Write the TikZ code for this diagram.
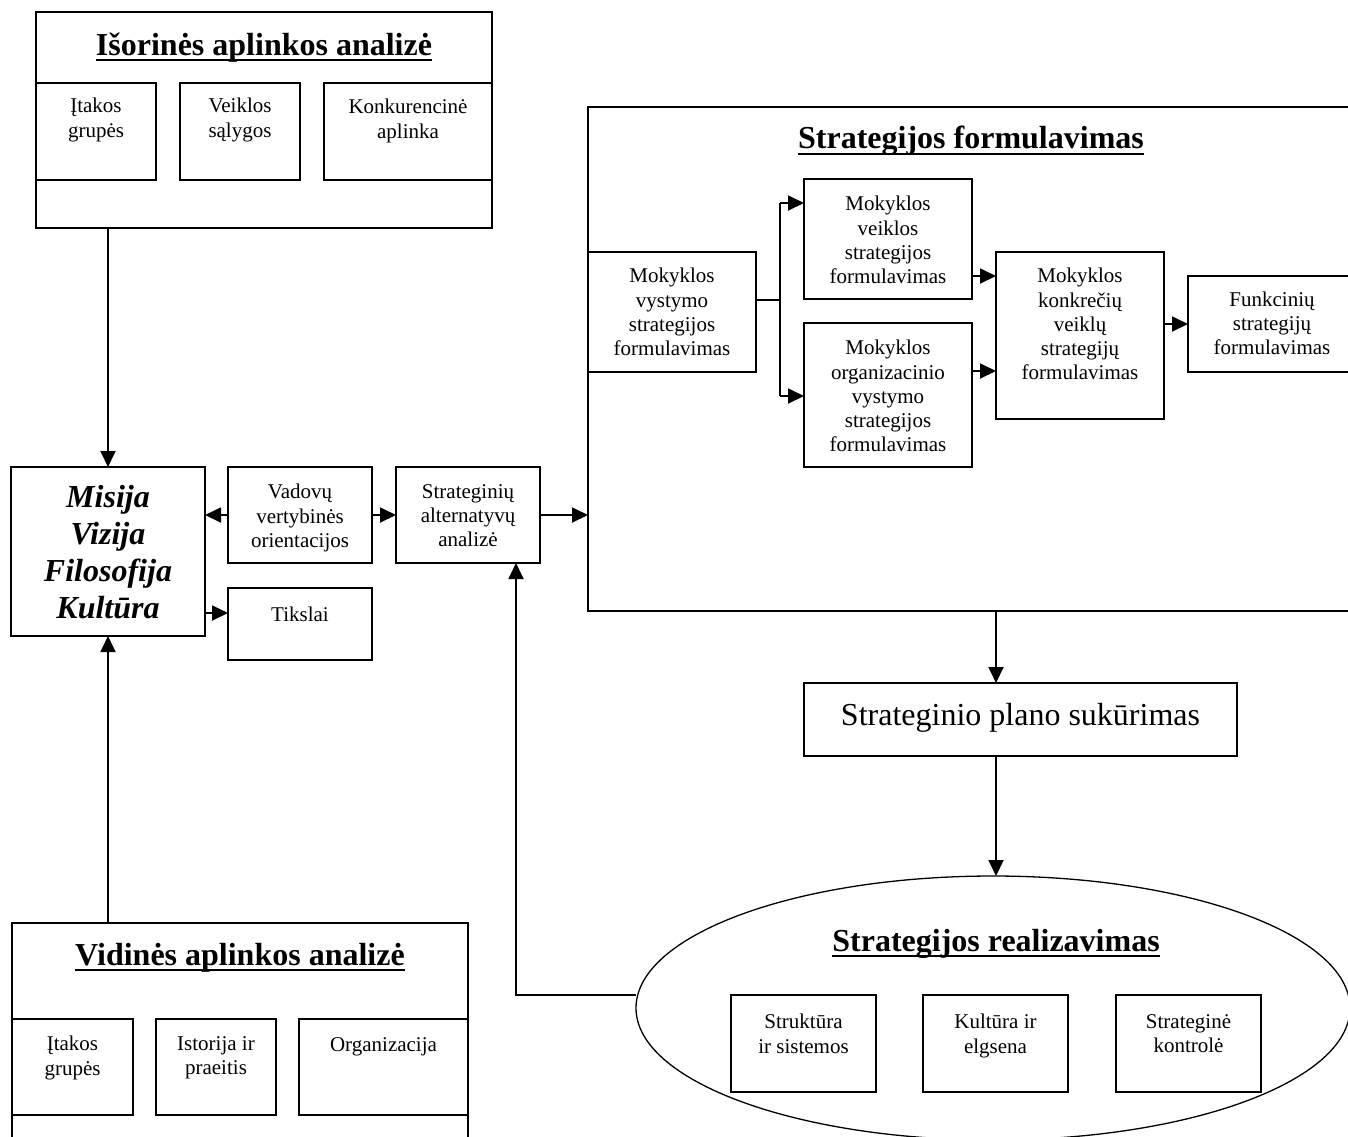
\documentclass[tikz,border=0pt]{standalone}
\usepackage{fontspec}
\setmainfont{Liberation Serif}
\usetikzlibrary{arrows.meta,shapes.geometric}
\newcommand\smfs{\fontsize{21}{24.3}\selectfont}
\newcommand\bgfs{\fontsize{32}{37}\selectfont}
\tikzset{
 box/.style={draw, line width=1.8pt, rectangle, inner sep=0pt, outer sep=0pt},
 arr/.style={line width=1.8pt, -{Triangle[length=16pt,width=15pt]}},
 ln/.style={line width=1.8pt},
 txt/.style={font=\smfs, align=center, inner sep=0pt, anchor=north, execute at begin node=\strut},
 mtxt/.style={font=\bgfs\bfseries\itshape, align=center, inner sep=0pt, anchor=north, execute at begin node=\strut},
 ttl/.style={font=\bgfs\bfseries, inner sep=0pt, anchor=base},
 ul/.style={line width=2.3pt},
}
\newcommand\mkbox[5]{\node[box, minimum width={#4-#2}, minimum height={#5-#3}] (#1) at ({(#2+#4)/2},{(#3+#5)/2}) {};}
\begin{document}
\begin{tikzpicture}[x=1pt,y=-1pt]
\useasboundingbox (0,0) rectangle (1348,1136);
\fill[white] (0,0) rectangle (1348,1136);
\clip (0,0) rectangle (1348,1136);

% ---------- external environment ----------
\mkbox{iso}{36}{12}{492}{228}
\node[ttl] (iso-t) at (264,55) {Išorinės aplinkos analizė};
\draw[ul] ([yshift=-5.3pt]iso-t.base west) -- ([yshift=-5.3pt]iso-t.base east);
\mkbox{iso1}{36}{83}{156}{180}
\mkbox{iso2}{180}{83}{300}{180}
\mkbox{iso3}{324}{83}{492}{180}
\node[txt] (iso1-t) at (96,98) {Įtakos\\grupės};
\node[txt] (iso2-t) at (240,98) {Veiklos\\sąlygos};
\node[txt] (iso3-t) at (408,99) {Konkurencinė\\aplinka};

% ---------- mission ----------
\mkbox{mis}{11}{467}{205}{636}
\node[mtxt] (mis-t) at (108,485.5) {Misija\\Vizija\\Filosofija\\Kultūra};

\mkbox{vad}{228}{467}{372}{563}
\node[txt] (vad-t) at (300,484) {Vadovų\\vertybinės\\orientacijos};
\mkbox{strat}{396}{467}{540}{563}
\node[txt] (strat-t) at (468,484) {Strateginių\\alternatyvų\\analizė};
\mkbox{tik}{228}{588}{372}{660}
\node[txt] (tik-t) at (300,604) {Tikslai};

% ---------- strategy formulation ----------
\mkbox{sf}{588}{107}{1354}{611}
\node[ttl] (sf-t) at (971,148.5) {Strategijos formulavimas};
\draw[ul] ([yshift=-5.3pt]sf-t.base west) -- ([yshift=-5.3pt]sf-t.base east);
\mkbox{vys}{588}{252}{756}{372}
\node[txt] (vys-t) at (672,268) {Mokyklos\\vystymo\\strategijos\\formulavimas};
\mkbox{vei}{804}{179}{972}{299}
\node[txt] (vei-t) at (888,196) {Mokyklos\\veiklos\\strategijos\\formulavimas};
\mkbox{org}{804}{323}{972}{467}
\node[txt] (org-t) at (888,340) {Mokyklos\\organizacinio\\vystymo\\strategijos\\formulavimas};
\mkbox{kon}{996}{252}{1164}{419}
\node[txt] (kon-t) at (1080,268) {Mokyklos\\konkrečių\\veiklų\\strategijų\\formulavimas};
\mkbox{fun}{1188}{276}{1356}{372}
\node[txt] (fun-t) at (1272,291.5) {Funkcinių\\strategijų\\formulavimas};

\coordinate (j) at (780,300);
\coordinate (ju) at (780,203);
\coordinate (jd) at (780,396);
\draw[ln] (vys.east |- j) -- (j);
\draw[ln] (ju) -- (jd);
\draw[arr] (ju) -- (ju -| vei.west);
\draw[arr] (jd) -- (jd -| org.west);
\draw[arr] (vei.east |- 0,276) -- (kon.west |- 0,276);
\draw[arr] (org.east |- 0,371) -- (kon.west |- 0,371);
\draw[arr] (kon.east |- fun.west) -- (fun.west);

% ---------- plan ----------
\mkbox{plan}{804}{683}{1237}{756}
\node[inner sep=0pt, anchor=base, font=\bgfs] (plan-t) at (1020.5,725) {Strateginio plano sukūrimas};

% ---------- implementation ----------
\node[draw, ellipse, line width=1.3pt, minimum width=714, minimum height=264, inner sep=0pt, outer sep=0pt] (el) at (993,1008) {};
\node[ttl] (el-t) at (996,951) {Strategijos realizavimas};
\draw[ul] ([yshift=-5.3pt]el-t.base west) -- ([yshift=-5.3pt]el-t.base east);
\mkbox{r1}{731}{995}{876}{1092}
\mkbox{r2}{923}{995}{1068}{1092}
\mkbox{r3}{1116}{995}{1261}{1092}
\node[txt] (r1-t) at (803.5,1014) {Struktūra\\ir sistemos};
\node[txt] (r2-t) at (995.5,1014) {Kultūra ir\\elgsena};
\node[txt] (r3-t) at (1188.5,1014) {Strateginė\\kontrolė};

% ---------- internal environment ----------
\mkbox{vid}{12}{923}{468}{1170}
\node[ttl] (vid-t) at (240,965) {Vidinės aplinkos analizė};
\draw[ul] ([yshift=-5.3pt]vid-t.base west) -- ([yshift=-5.3pt]vid-t.base east);
\mkbox{vid1}{12}{1019}{133}{1115}
\mkbox{vid2}{156}{1019}{276}{1115}
\mkbox{vid3}{299}{1019}{468}{1115}
\node[txt] (vid1-t) at (72.5,1036) {Įtakos\\grupės};
\node[txt] (vid2-t) at (216,1036) {Istorija ir\\praeitis};
\node[txt] (vid3-t) at (383.5,1034) {Organizacija};

% ---------- connectors ----------
\draw[arr] (mis.north |- iso.south) -- (mis.north);
\draw[arr] (mis.south |- vid.north) -- (mis.south);
\draw[arr] (vad.west) -- (mis.east |- vad.west);
\draw[arr] (vad.east) -- (strat.west);
\draw[arr] (strat.east) -- (sf.west |- strat.east);
\draw[arr] (mis.east |- 0,613) -- (tik.west |- 0,613);
\coordinate (ax) at (996,0);
\draw[arr] (ax |- sf.south) -- (ax |- plan.north);
\draw[arr] (ax |- plan.south) -- (ax |- el.north);
\coordinate (fb) at (516,995);
\draw[arr] (fb -| el.west) -- (fb) -- (fb |- strat.south);
\end{tikzpicture}
\end{document}
